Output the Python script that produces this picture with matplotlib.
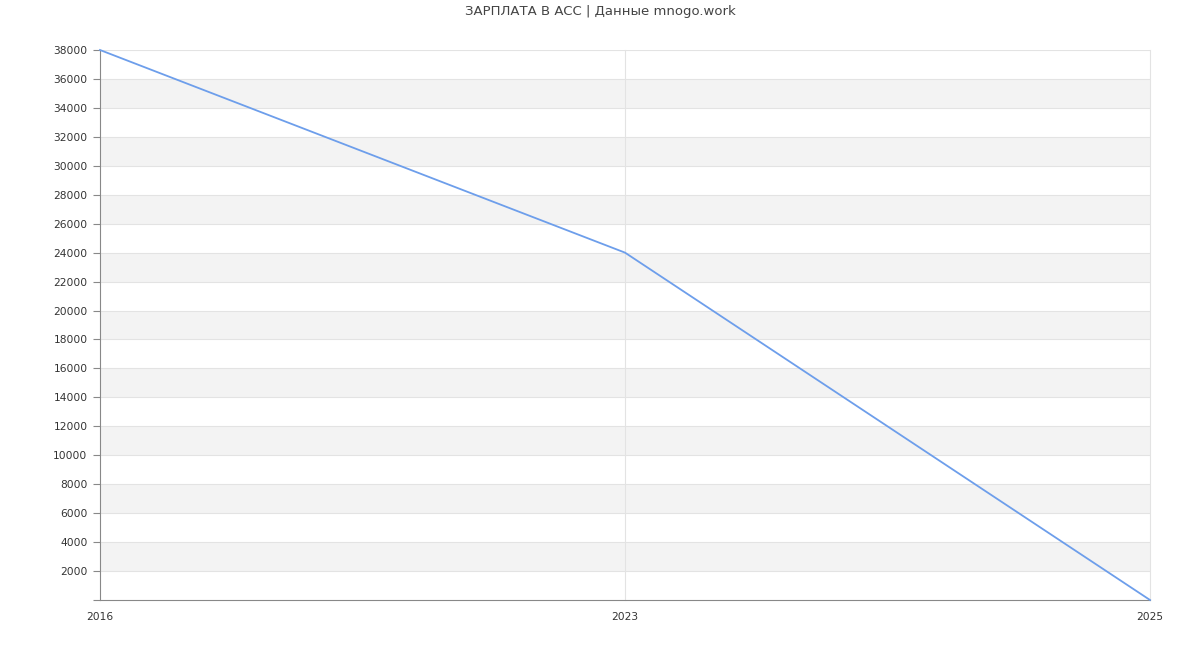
import matplotlib.pyplot as plt

# Datos del grafico
anios = ['2016', '2023', '2025']
salario = [38000, 24000, 0]
ticks_y = list(range(2000, 38001, 2000))

fig = plt.figure(figsize=(12, 6.5), dpi=100)
ax = fig.add_axes([100 / 1200, 1 - 600 / 650, 1050 / 1200, 550 / 650])

x = list(range(len(anios)))

# bandas grises alternadas
for y0 in range(2000, 38000, 4000):
    ax.axhspan(y0, y0 + 2000, color='#f3f3f3', zorder=0, lw=0)

for t in ticks_y:
    ax.axhline(t, color='#e3e3e3', lw=0.8, zorder=1)
for xi in x[1:]:
    ax.axvline(xi, color='#e3e3e3', lw=0.8, zorder=1, clip_on=False)

ax.plot(x, salario, color='#6d9eeb', lw=1.3, zorder=3, clip_on=False)

ax.set_xlim(0, len(anios) - 1)
ax.set_ylim(0, 38000)
ax.set_xticks(x)
ax.set_xticklabels(anios)
ax.set_yticks([0] + ticks_y)
ax.set_yticklabels([''] + [str(t) for t in ticks_y])

ax.tick_params(axis='y', length=5, width=0.8, color='#888888', labelsize=7.7, labelcolor='#333333', pad=4)
ax.tick_params(axis='x', length=0, labelsize=7.7, labelcolor='#333333', pad=9)
for lbl in ax.get_xticklabels():
    lbl.set_x(lbl.get_position()[0])

for s in ['top', 'right']:
    ax.spines[s].set_visible(False)
ax.spines['left'].set_color('#888888')
ax.spines['bottom'].set_color('#888888')

fig.suptitle('ЗАРПЛАТА В ACC | Данные mnogo.work', y=1 - 5 / 650, fontsize=9.5, color='#444444')

fig.savefig('out.png', dpi=100)
